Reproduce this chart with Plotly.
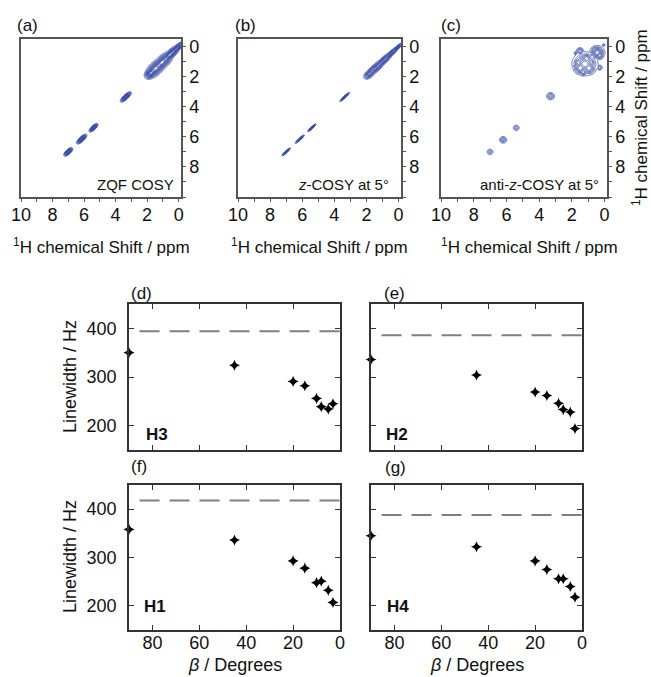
import numpy as np
import plotly.graph_objects as go

W, H = 651, 677
FONT = "Liberation Sans, Arial, sans-serif"
BLUE = "#3a4ca6"

# ---------------- bottom panel data ----------------
beta = [90, 45, 20, 15, 10, 8, 5, 3]
lw_H3 = [350, 324, 291, 282, 256, 239, 234, 245]
lw_H2 = [336, 304, 269, 262, 246, 233, 228, 194]
lw_H1 = [358, 336, 293, 278, 248, 251, 232, 207]
lw_H4 = [345, 322, 293, 275, 256, 256, 240, 218]
ref_lw = {"H3": 394, "H2": 386, "H1": 418, "H4": 388}
ref_beta = [85.5, 0]

# ---------------- top panel spectra (peak lists) ----------------
# each peak: (x ppm, y ppm, width along diagonal, width across diagonal, amplitude)
zqf_peaks = [
    (7.00, 7.00, 0.12, 0.050, 1.0),
    (6.15, 6.15, 0.14, 0.050, 1.0),
    (5.40, 5.40, 0.12, 0.045, 1.0),
    (3.35, 3.35, 0.15, 0.050, 1.0),
    (0.15, 0.15, 0.22, 0.060, 1.0),
    (0.55, 0.55, 0.30, 0.090, 1.0),
    (1.05, 1.05, 0.32, 0.130, 1.0),
    (1.45, 1.45, 0.28, 0.140, 1.0),
    (1.75, 1.75, 0.16, 0.110, 1.0),
]
zcosy_peaks = [
    (7.00, 7.00, 0.12, 0.022, 1.0),
    (6.15, 6.15, 0.13, 0.022, 1.0),
    (5.40, 5.40, 0.12, 0.020, 1.0),
    (3.35, 3.35, 0.14, 0.022, 1.0),
    (0.10, 0.10, 0.15, 0.035, 1.0),
    (0.50, 0.50, 0.25, 0.050, 1.0),
    (0.95, 0.95, 0.25, 0.070, 1.0),
    (1.40, 1.40, 0.25, 0.080, 1.0),
    (1.80, 1.80, 0.15, 0.080, 0.9),
    (1.25, 1.45, 0.15, 0.035, 0.6),
    (1.65, 1.45, 0.15, 0.035, 0.6),
    (1.90, 2.00, 0.08, 0.030, 0.5),
]
anti_peaks = [
    (7.00, 7.00, 0.08, 0.08, 0.35),
    (6.20, 6.20, 0.09, 0.09, 0.45),
    (5.40, 5.40, 0.08, 0.08, 0.35),
    (3.30, 3.30, 0.10, 0.10, 0.45),
    (1.20, 1.15, 0.27, 0.27, 0.9),
    (0.95, 1.45, 0.16, 0.16, 0.7),
    (1.50, 1.45, 0.15, 0.15, 0.7),
    (1.10, 0.80, 0.14, 0.14, 0.7),
    (1.60, 1.05, 0.12, 0.12, 0.6),
    (1.30, 1.70, 0.10, 0.10, 0.6),
    (0.80, 1.05, 0.10, 0.10, 0.6),
    (1.75, 1.30, 0.07, 0.07, 0.5),
    (0.45, 0.40, 0.16, 0.16, 0.9),
    (0.30, 0.60, 0.10, 0.10, 0.6),
    (0.60, 0.20, 0.09, 0.09, 0.5),
    (1.50, 0.30, 0.09, 0.09, 0.5),
    (1.75, 0.45, 0.05, 0.05, 0.35),
    (0.30, 1.40, 0.07, 0.07, 0.4),
    (0.05, -0.10, 0.04, 0.04, 0.3),
]

ppm_axis = np.arange(-0.6, 10.05, 0.03)


def spectrum(peaks):
    X, Y = np.meshgrid(ppm_axis, ppm_axis)
    Z = np.zeros_like(X)
    for xc, yc, sa, sc, amp in peaks:
        dx, dy = X - xc, Y - yc
        d1 = (dx + dy) / 2.0
        d2 = (dx - dy) / 2.0
        Z = np.maximum(Z, amp * np.exp(-d1 ** 2 / (2 * sa ** 2) - d2 ** 2 / (2 * sc ** 2)))
    return np.round(Z, 3)


def dx_(a, b):
    return [a / W, b / W]


def dy_(top, bot):
    return [1 - bot / H, 1 - top / H]


fig = go.Figure()

top_specs = [
    (zqf_peaks, "x", "y", dict(start=0.08, end=0.98, size=0.07)),
    (zcosy_peaks, "x2", "y2", dict(start=0.08, end=0.98, size=0.09)),
    (anti_peaks, "x3", "y3", dict(start=0.1, end=0.98, size=0.1)),
]
for peaks, xa, ya, cont in top_specs:
    fig.add_trace(go.Contour(
        x=ppm_axis, y=ppm_axis, z=spectrum(peaks),
        contours=dict(coloring="lines", **cont),
        colorscale=[[0, BLUE], [1, BLUE]], showscale=False,
        line=dict(width=0.8), xaxis=xa, yaxis=ya, hoverinfo="skip",
    ))

bottom = [
    (lw_H3, "H3", "x4", "y4"),
    (lw_H2, "H2", "x5", "y5"),
    (lw_H1, "H1", "x6", "y6"),
    (lw_H4, "H4", "x7", "y7"),
]
for vals, name, xa, ya in bottom:
    fig.add_trace(go.Scatter(
        x=ref_beta, y=[ref_lw[name]] * 2, mode="lines",
        line=dict(color="#808080", width=2, dash="20px,10px"),
        xaxis=xa, yaxis=ya, showlegend=False, hoverinfo="skip",
    ))
    fig.add_trace(go.Scatter(
        x=beta, y=vals, mode="markers",
        marker=dict(symbol="star-diamond", size=8, color="black"),
        xaxis=xa, yaxis=ya, showlegend=False, cliponaxis=False,
    ))

tickfont = dict(family=FONT, size=18, color="#111")

top_x = [(21, 181), (238, 401), (441, 607)]
layout = dict(
    width=W, height=H, autosize=False, margin=dict(l=0, r=0, t=0, b=0, pad=0),
    paper_bgcolor="white", plot_bgcolor="white", showlegend=False,
    font=dict(family=FONT, color="#111"),
)
for i, (a, b) in enumerate(top_x):
    n = "" if i == 0 else str(i + 1)
    layout["xaxis" + n] = dict(
        domain=dx_(a, b), anchor="y" + n, range=[10, -0.15], automargin=False,
        tickvals=[0, 2, 4, 6, 8, 10], ticks="outside", ticklen=3, ticklabelstandoff=-2,
        tickcolor="#555", minor=dict(dtick=1, ticks="outside", ticklen=3, tickcolor="#555"),
        showline=True, linecolor="#555", linewidth=1.5, mirror=True,
        showgrid=False, zeroline=False, tickfont=tickfont,
    )
    layout["yaxis" + n] = dict(
        domain=dy_(39, 197), anchor="x" + n, range=[10, -0.5], side="right",
        automargin=False,
        tickvals=[0, 2, 4, 6, 8], ticks="outside", ticklen=3, tickcolor="#555",
        minor=dict(dtick=1, ticks="outside", ticklen=3, tickcolor="#555"),
        showline=True, linecolor="#555", linewidth=1.5, mirror=True,
        showgrid=False, zeroline=False, tickfont=tickfont,
    )

bot_x = [(129, 340), (371, 582)]
bot_y = [(304, 450), (485, 630)]
k = 4
for r, (t, bt) in enumerate(bot_y):
    for c, (a, b) in enumerate(bot_x):
        n = str(k)
        layout["xaxis" + n] = dict(
            domain=dx_(a, b), anchor="y" + n, range=[90, 0], automargin=False,
            tickvals=[0, 20, 40, 60, 80], ticks="inside", ticklen=5, tickcolor="#333",
            showticklabels=(r == 1), ticklabelstandoff=-4,
            showline=True, linecolor="#333", linewidth=1.5, mirror="ticks",
            showgrid=False, zeroline=False, tickfont=tickfont,
        )
        layout["yaxis" + n] = dict(
            domain=dy_(t, bt), anchor="x" + n, range=[150, 450], automargin=False,
            tickvals=[200, 300, 400], ticks="inside", ticklen=5, tickcolor="#333",
            showticklabels=(c == 0), ticklabelstandoff=7,
            showline=True, linecolor="#333", linewidth=1.5, mirror="ticks",
            showgrid=False, zeroline=False, tickfont=tickfont,
        )
        k += 1

fig.update_layout(**layout)

ann = []


def add(text, x, y, size=17, xa="center", ya="middle", angle=0, bold=False):
    ann.append(dict(
        text=("<b>%s</b>" % text) if bold else text, x=x / W, y=1 - y / H,
        xref="paper", yref="paper", showarrow=False, xanchor=xa, yanchor=ya,
        textangle=angle, font=dict(family=FONT, size=size, color="#111"),
    ))


# panel letters
add("(a)", 15, 25, xa="left")
add("(b)", 233, 25, xa="left")
add("(c)", 439, 25, xa="left")
add("(d)", 129, 294, xa="left")
add("(e)", 382, 294, xa="left")
add("(f)", 129, 467, xa="left")
add("(g)", 383, 468, xa="left")

# spectrum labels
add("ZQF COSY", 176, 184, size=15, xa="right")
add("<i>z</i>-COSY at 5°", 391, 184, size=15, xa="right")
add("anti-<i>z</i>-COSY at 5°", 601, 184, size=15, xa="right")

# top axis titles
for cx in (101, 319, 529):
    add("<sup>1</sup>H chemical Shift / ppm", cx, 246, size=17)
add("<sup>1</sup>H chemical Shift / ppm", 640, 118, size=17, angle=-90)

# bottom labels
add("H3", 144, 434, size=17, xa="left", bold=True)
add("H2", 384, 434, size=17, xa="left", bold=True)
add("H1", 142, 606, size=17, xa="left", bold=True)
add("H4", 385, 606, size=17, xa="left", bold=True)
add("Linewidth / Hz", 70, 377, size=18, angle=-90)
add("Linewidth / Hz", 70, 557, size=18, angle=-90)
add("<i>β</i> / Degrees", 235, 665, size=18)
add("<i>β</i> / Degrees", 477, 665, size=18)

fig.update_layout(annotations=ann)
fig.write_html(
    "out.html",
    config={"displayModeBar": False},
    post_script="document.body.style.margin='0';document.body.style.overflow='hidden';",
)
